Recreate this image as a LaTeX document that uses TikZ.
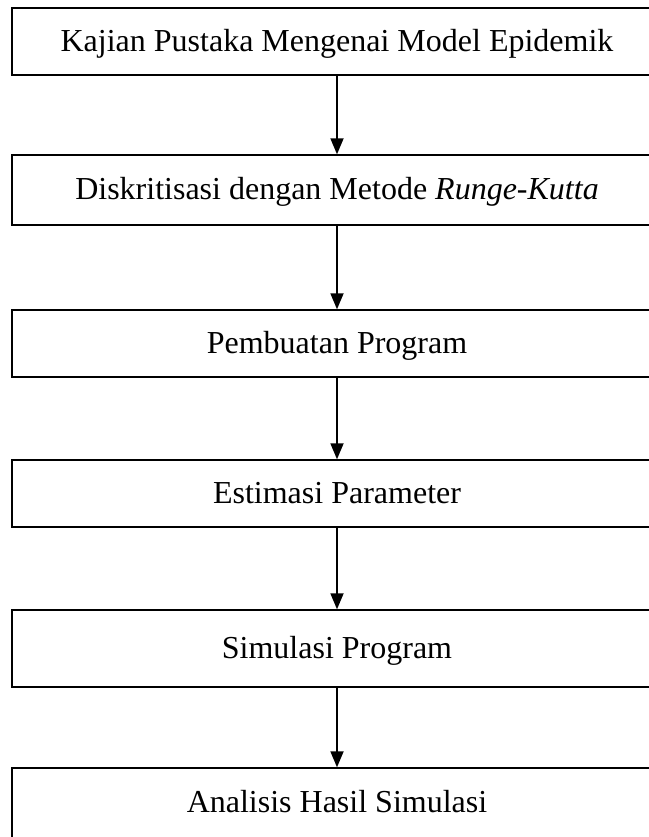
\documentclass[tikz,border=0pt]{standalone}
\usepackage{fontspec}
\setmainfont{Liberation Serif}
\usetikzlibrary{arrows.meta}
\begin{document}
\begin{tikzpicture}[x=1pt,y=1pt,
  stepbox/.style={draw, line width=1.4pt, minimum width=650pt, inner sep=0pt,
    text height=25pt, text depth=5pt, font=\fontsize{32}{38}\selectfont},
  flow/.style={line width=1.8pt, -{Triangle[width=13pt,length=16pt]}}]
\useasboundingbox (0,0) rectangle (648,-837);
\node[stepbox, minimum height=67pt] (b1) at (337,-41.5) {Kajian Pustaka Mengenai Model Epidemik};
\node[stepbox, minimum height=70pt] (b2) at (337,-190) {Diskritisasi dengan Metode \textit{Runge-Kutta}};
\node[stepbox, minimum height=67pt] (b3) at (337,-343.5) {Pembuatan Program};
\node[stepbox, minimum height=67pt] (b4) at (337,-493.5) {Estimasi Parameter};
\node[stepbox, minimum height=77pt] (b5) at (337,-648.5) {Simulasi Program};
\node[stepbox, minimum height=90pt, text height=14pt, text depth=16pt] (b6) at (337,-813) {Analisis Hasil Simulasi};
\draw[flow] (b1) -- (b2);
\draw[flow] (b2) -- (b3);
\draw[flow] (b3) -- (b4);
\draw[flow] (b4) -- (b5);
\draw[flow] (b5) -- (b6);
\end{tikzpicture}
\end{document}
